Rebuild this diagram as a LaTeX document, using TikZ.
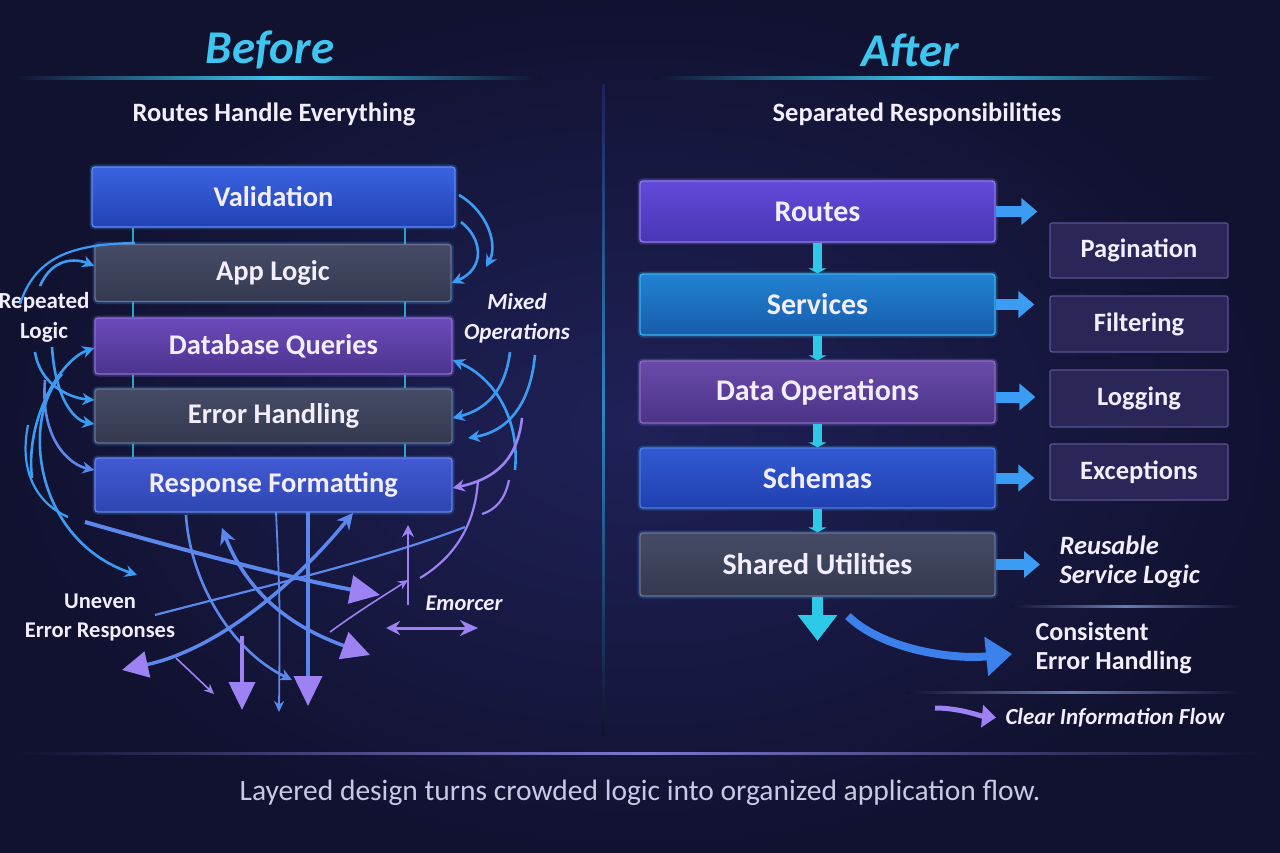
\documentclass[tikz,border=0pt]{standalone}
\usepackage{fontspec}
\setmainfont{Carlito}
\usetikzlibrary{arrows.meta,calc}
\definecolor{bgin}{HTML}{1F2158}
\definecolor{bgout}{HTML}{111230}
\definecolor{cyanT}{HTML}{3EC6F0}
\definecolor{txt}{HTML}{F2EEFF}
\definecolor{capc}{HTML}{CAC8E2}
\definecolor{arB}{HTML}{3A9CF2}
\definecolor{arM}{HTML}{5C88EE}
\definecolor{arP}{HTML}{9C82F2}
\definecolor{cyC}{HTML}{2EC8E8}
\definecolor{lav}{HTML}{7C78CC}
\definecolor{sepc}{HTML}{6A7CB0}
\definecolor{divc}{HTML}{2E86C0}
\definecolor{curveB}{HTML}{3C80EC}
% box colours
\definecolor{blueT}{RGB}{58,99,224}   \definecolor{blueB}{RGB}{34,66,180}   \definecolor{blueD}{RGB}{96,140,255}
\definecolor{slateT}{RGB}{70,76,102}  \definecolor{slateB}{RGB}{52,57,80}   \definecolor{slateD}{RGB}{108,114,144}
\definecolor{purT}{RGB}{108,74,186}   \definecolor{purB}{RGB}{76,52,142}    \definecolor{purD}{RGB}{140,108,216}
\definecolor{blue2T}{RGB}{66,90,212}  \definecolor{blue2B}{RGB}{46,70,176}  \definecolor{blue2D}{RGB}{106,128,234}
\definecolor{rouT}{RGB}{100,74,218}   \definecolor{rouB}{RGB}{72,54,180}    \definecolor{rouD}{RGB}{140,122,240}
\definecolor{serT}{RGB}{34,130,210}   \definecolor{serB}{RGB}{24,92,172}    \definecolor{serD}{RGB}{64,176,240}
\definecolor{datT}{RGB}{106,74,170}   \definecolor{datB}{RGB}{74,52,134}    \definecolor{datD}{RGB}{138,108,192}
\definecolor{schT}{RGB}{50,90,210}    \definecolor{schB}{RGB}{32,64,176}    \definecolor{schD}{RGB}{80,122,226}
\definecolor{smD}{RGB}{92,82,148}     \definecolor{smF}{RGB}{42,38,88}
\tikzset{
  box/.style={draw, line width=1.3pt, rounded corners=3pt, inner sep=0pt, text=txt,
    font=\bfseries\fontsize{28.5}{32}\selectfont,
    preaction={draw=#1, line width=5pt, draw opacity=0.25}},
  box/.default=arB,
  rbox/.style={font=\bfseries\fontsize{30}{34}\selectfont},
  cblue/.style={box=arB, top color=blueT, bottom color=blueB, draw=blueD},
  cslate/.style={box=arB, top color=slateT, bottom color=slateB, draw=slateD},
  cpurple/.style={box=arP, top color=purT, bottom color=purB, draw=purD},
  cblue2/.style={box=arB, top color=blue2T, bottom color=blue2B, draw=blue2D},
  croutes/.style={box=arP, top color=rouT, bottom color=rouB, draw=rouD},
  cserv/.style={box=cyC, top color=serT, bottom color=serB, draw=serD},
  cdata/.style={box=arP, top color=datT, bottom color=datB, draw=datD},
  cschem/.style={box=arB, top color=schT, bottom color=schB, draw=schD},
  small/.style={draw=smD, line width=1.2pt, fill=smF, rounded corners=2pt,
    minimum width=178pt, text=txt, font=\bfseries\fontsize{26.5}{30}\selectfont},
  lbl/.style={text=txt, align=center, font=\bfseries\fontsize{23}{30}\selectfont},
  mess/.style={line width=2.6pt, draw=#1, -{Stealth[length=12pt,width=12pt]}},
  mess/.default=arB,
  messl/.style={line width=2.2pt, draw=#1},
  messl/.default=arB,
  big/.style={line width=4pt, draw=#1, -{Triangle[length=30pt,width=28pt,color=arP]}},
  big/.default=arM,
  thincy/.style={line width=2pt, draw=cyC, draw opacity=0.8},
  blockarr/.style={line width=11pt, draw=arB, -{Triangle[length=16pt,width=26pt]}},
  cyconn/.style={line width=9pt, draw=cyC, -{Triangle[length=5pt,width=18pt]}}
}
\begin{document}
\begin{tikzpicture}[x=1pt,y=-1pt]
\useasboundingbox (0,0) rectangle (1280,853);
\shade[inner color=bgin, outer color=bgout] (0,0) rectangle (1280,853);

% headers
\node[font=\bfseries\itshape\fontsize{47}{50}\selectfont, text=cyanT] (before) at (270,50) {Before};
\node[font=\bfseries\itshape\fontsize{47}{50}\selectfont, text=cyanT] (after) at (910,50) {After};
\shade[left color=bgout, right color=bgout, middle color=cyanT] (15,77) rectangle (540,79.5);
\shade[left color=bgout, right color=bgout, middle color=cyanT] (653,77) rectangle (1216,79.5);
\shade[top color=bgin, bottom color=bgout, middle color=divc] (602,85) rectangle (604.5,735);
\node[text=txt, font=\bfseries\fontsize{26.5}{30}\selectfont] (sub1) at (274,114) {Routes Handle Everything};
\node[text=txt, font=\bfseries\fontsize{26.5}{30}\selectfont] (sub2) at (917,114) {Separated Responsibilities};

% ---------- BEFORE ----------
\coordinate (l1) at (133,0);
\coordinate (l2) at (405,0);
\node[cblue, minimum width=363pt, minimum height=60pt] (val) at (273.5,197) {Validation};
\node[cslate, minimum width=356pt, minimum height=57pt] (app) at (273,273) {App Logic};
\node[cpurple, minimum width=357pt, minimum height=56pt] (db) at (273.5,346) {Database Queries};
\node[cslate, minimum width=357pt, minimum height=54pt] (err) at (273.5,416) {Error Handling};
\node[cblue2, minimum width=357pt, minimum height=54pt] (resp) at (273.5,485) {Response Formatting};
\foreach \a/\b in {val/app,app/db,db/err,err/resp}{
  \draw[thincy] (\a.south -| l1) -- (\b.north -| l1);
  \draw[thincy] (\a.south -| l2) -- (\b.north -| l2);
}

\node[lbl] (rep) at (44,317) {Repeated\\Logic};
\node[lbl, font=\bfseries\itshape\fontsize{23}{30}\selectfont] (mixed) at (517,318) {Mixed\\Operations};
\node[lbl, font=\bfseries\fontsize{22.5}{29}\selectfont] (uneven) at (100,617) {Uneven\\Error Responses};
\node[lbl, font=\bfseries\itshape\fontsize{22.5}{29}\selectfont] (emorcer) at (464,603) {Emorcer};

% left side arrows
\coordinate (a1) at (40,286);
\coordinate (a2) at (20,304);  \coordinate (a2e) at (135,243);
\coordinate (a3) at (35,352);
\coordinate (a4) at (52,347);
\coordinate (a5) at (32,478);
\coordinate (a6) at (45,380);
\coordinate (a7) at (62,374);  \coordinate (a7e) at (137,575);
\coordinate (a8) at (28,425);  \coordinate (a8e) at (68,517);
\draw[mess] (a1) .. controls (52,258) and (75,258) .. ([yshift=7pt]app.west);
\draw[messl] (a2) .. controls (35,258) and (70,244) .. (a2e);
\draw[mess] (a3) .. controls (40,385) and (70,398) .. ([yshift=16pt]err.west);
\draw[mess] (a4) .. controls (55,395) and (72,420) .. ([yshift=-8pt]err.west);
\draw[mess] (a5) .. controls (25,420) and (60,360) .. ([yshift=-2pt]db.west);
\draw[mess=arM] (a6) .. controls (40,440) and (70,465) .. ([yshift=15pt]resp.west);
\draw[mess] (a7) .. controls (20,420) and (35,540) .. (a7e);
\draw[messl] (a8) .. controls (18,475) and (40,505) .. (a8e);

% right side arrows
\coordinate (b1) at (459,195); \coordinate (b1e) at (486,267);
\coordinate (b2) at (461,222);
\coordinate (b3) at (510,352);
\coordinate (b4) at (535,355); \coordinate (b4e) at (468,438);
\coordinate (b5) at (515,470);
\coordinate (b6) at (522,418);
\draw[mess] (b1) .. controls (488,212) and (498,245) .. (b1e);
\draw[mess] (b2) .. controls (482,238) and (486,268) .. ([yshift=-10pt]app.east);
\draw[mess] (b3) .. controls (505,392) and (485,410) .. ([yshift=-2pt]err.east);
\draw[mess] (b4) .. controls (530,408) and (505,432) .. (b4e);
\draw[mess] (b5) .. controls (520,420) and (495,378) .. ([yshift=-14pt]db.east);
\draw[mess=arP] (b6) .. controls (518,455) and (500,478) .. ([yshift=-3pt]resp.east);

% bottom tangle
\coordinate (c9) at (85,522);   \coordinate (c9e) at (380,595);
\coordinate (c10) at (155,615); \coordinate (c10e) at (465,527);
\coordinate (c11) at (122,670); \coordinate (c11e) at (353,513);
\coordinate (c12) at (222,528); \coordinate (c12e) at (370,655);
\coordinate (c13) at (186,515); \coordinate (c13e) at (292,680);
\coordinate (c14) at (242,636); \coordinate (c14e) at (242,710);
\coordinate (c15) at (276,512); \coordinate (c15e) at (279,712);
\coordinate (c16) at (308,512); \coordinate (c16e) at (308,706);
\coordinate (c17) at (408,605); \coordinate (c17e) at (408,525);
\coordinate (c18) at (330,632); \coordinate (c18e) at (408,580);
\coordinate (c19) at (478,480); \coordinate (c19e) at (420,578);
\coordinate (c20) at (509,480); \coordinate (c20e) at (482,514);
\coordinate (c21) at (176,658); \coordinate (c21e) at (214,694);
\coordinate (c22) at (386,628); \coordinate (c22e) at (478,628);

\draw[messl=arM] (c10) .. controls (250,590) and (380,560) .. (c10e);
\draw[messl=arP] (c19) .. controls (475,530) and (450,560) .. (c19e);
\draw[messl=arP] (c20) .. controls (505,500) and (495,510) .. (c20e);
\draw[line width=1.6pt, draw=arP, -{Stealth[length=10pt,width=9pt]}] (c18) .. controls (360,610) and (385,595) .. (c18e);
\draw[line width=1.8pt, draw=arM, -{Stealth[length=11pt,width=10pt]}] (c15) .. controls (280,600) .. (c15e);
\draw[big] (c9) .. controls (200,555) and (300,580) .. (c9e);
\draw[line width=3.5pt, draw=arM, {Triangle[length=26pt,width=26pt,color=arP]}-{Stealth[length=16pt,width=16pt]}] (c11) .. controls (214,650) and (290,590) .. (c11e);
\draw[line width=3.5pt, draw=arM, {Stealth[length=16pt,width=16pt]}-{Triangle[length=28pt,width=28pt,color=arP]}] (c12) .. controls (250,600) and (300,630) .. (c12e);
\draw[mess=arM] (c13) .. controls (190,580) and (230,650) .. (c13e);
\draw[line width=4pt, draw=arP, -{Triangle[length=28pt,width=26pt]}] (c14) -- (c14e);
\draw[big] (c16) -- (c16e);
\draw[mess=arP] (c17) -- (c17e);
\draw[line width=1.6pt, draw=arP, -{Stealth[length=10pt,width=9pt]}] (c21) -- (c21e);
\draw[line width=3pt, draw=arP, {Stealth[length=14pt,width=14pt]}-{Stealth[length=18pt,width=16pt]}] (c22) -- (c22e);

% ---------- AFTER ----------
\node[croutes, rbox, minimum width=355pt, minimum height=61pt] (routes) at (817.5,211.5) {Routes};
\node[cserv, rbox, minimum width=355pt, minimum height=61pt] (serv) at (817.5,304.5) {Services};
\node[cdata, rbox, minimum width=355pt, minimum height=62pt] (dataop) at (817.5,392) {Data Operations};
\node[cschem, rbox, minimum width=355pt, minimum height=60pt] (schemas) at (817.5,478) {Schemas};
\node[cslate, rbox, minimum width=355pt, minimum height=63pt] (shared) at (817.5,564.5) {Shared Utilities};

\node[small, minimum height=55pt] (pag) at (1139,250.5) {Pagination};
\node[small, minimum height=56pt] (filt) at (1139,324) {Filtering};
\node[small, minimum height=57pt] (logg) at (1139,398.5) {Logging};
\node[small, minimum height=56pt] (exc) at (1139,472) {Exceptions};

\node[text=txt, align=left, anchor=west, font=\bfseries\itshape\fontsize{26.5}{29}\selectfont] (reuse) at (1056,562) {Reusable\\Service Logic};
\node[text=txt, align=left, anchor=west, font=\bfseries\fontsize{26}{29}\selectfont] (consist) at (1032,648) {Consistent\\Error Handling};
\node[text=txt, anchor=west, font=\bfseries\itshape\fontsize{23}{28}\selectfont] (clear) at (1002,718) {Clear Information Flow};

\draw[cyconn] (routes.south) -- (serv.north);
\draw[cyconn] (serv.south) -- (dataop.north);
\draw[cyconn] (dataop.south) -- (schemas.north);
\draw[cyconn] (schemas.south) -- (shared.north);
\coordinate (downend) at (817.5,641);
\draw[line width=11pt, draw=cyC, -{Triangle[length=26pt,width=38pt]}] (shared.south) -- (downend);

\draw[blockarr, shorten >=12pt] (routes.east) -- (routes.east -| pag.west);
\draw[blockarr, shorten >=15pt] (serv.east) -- (serv.east -| filt.west);
\draw[blockarr, shorten >=14pt] ([yshift=-5pt]dataop.east) -- ([yshift=-5pt]dataop.east -| logg.west);
\draw[blockarr, shorten >=15pt] (schemas.east) -- (schemas.east -| exc.west);
\draw[blockarr, shorten >=16pt] (shared.east) -- (shared.east -| reuse.west);

\coordinate (cs) at (848,616);
\draw[line width=8pt, draw=curveB, -{Triangle[length=26pt,width=38pt]}, shorten >=20pt] (cs) .. controls (880,648) and (950,660) .. ([yshift=-4pt]consist.west);
\coordinate (cl0) at (935,708);
\draw[line width=5pt, draw=arP, -{Triangle[length=14pt,width=22pt]}, shorten >=6pt] (cl0) .. controls (960,708) and (980,716) .. (clear.west);

\shade[left color=bgout, right color=bgout, middle color=sepc] (1010,605.5) rectangle (1240,607.5);
\shade[left color=bgout, right color=bgout, middle color=sepc] (905,691.5) rectangle (1240,693.5);

% bottom
\shade[left color=bgout, right color=bgout, middle color=lav] (15,752) rectangle (1265,754.5);
\node[text=capc, font=\fontsize{29.5}{33}\selectfont] (cap) at (640,793) {Layered design turns crowded logic into organized application flow.};
\end{tikzpicture}
\end{document}
